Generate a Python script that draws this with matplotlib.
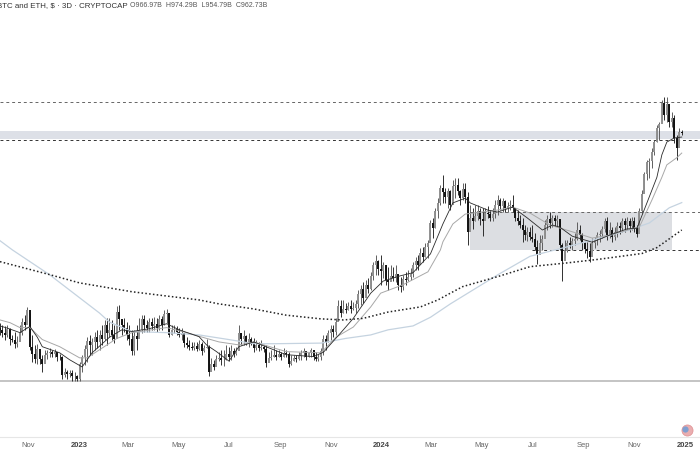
import numpy as np
import matplotlib
matplotlib.use("Agg")
from matplotlib import pyplot as plt
import matplotlib.dates as mdates

plt.rcParams['font.family'] = ['Liberation Sans', 'DejaVu Sans']

# 3D bars, values in $B
start_date = np.datetime64('2022-09-28')
highs = [414,410,408,410,405,392,397,390,410,423,
         428,443,433,392,375,376,363,358,367,366,
         370,366,368,362,360,357,338,336,336,336,
         333,328,348,359,375,388,392,386,397,401,
         401,410,419,423,423,419,410,445,447,419,
         423,415,410,401,401,410,423,428,428,419,
         423,423,425,423,428,426,438,440,433,410,
         410,408,405,405,392,388,384,380,380,380,
         384,380,375,385,375,354,351,359,364,367,
         367,375,372,375,370,372,410,395,401,392,
         395,388,386,384,380,384,375,375,364,367,
         375,367,367,364,370,367,364,359,359,358,
         364,367,370,364,364,370,364,364,360,370,
         392,392,401,410,410,423,458,458,458,452,
         454,458,454,458,479,490,497,501,505,519,
         543,559,547,559,543,535,531,535,531,535,
         512,508,512,519,524,528,543,555,559,577,
         580,590,598,653,660,689,720,763,798,755,
         752,746,781,788,788,746,770,770,740,698,
         690,698,698,690,690,690,695,683,690,714,
         730,722,722,714,708,714,730,683,683,668,
         660,639,634,634,639,617,598,611,611,653,
         668,677,668,668,668,653,590,598,598,607,
         604,617,648,639,617,593,593,590,604,607,
         620,625,636,660,663,648,634,634,648,648,
         660,660,663,660,663,663,639,690,746,810,
         853,860,900,932,997,1010,1114,1130,1130,1090,
         1055,1043,953,985,974]
lows = [392,388,384,388,375,380,370,372,384,392,
        401,414,367,348,346,345,344,332,349,352,
        356,356,356,349,351,322,325,322,325,320,
        320,320,320,333,343,348,359,358,367,370,
        367,375,384,375,388,384,378,403,401,392,
        397,384,375,358,359,367,392,396,398,398,
        397,401,401,398,401,401,410,414,388,392,
        396,392,388,384,372,370,367,367,367,365,
        367,359,364,370,326,336,336,343,349,343,
        342,351,349,351,355,359,367,375,375,375,
        372,375,364,367,365,367,364,340,349,351,
        355,351,356,351,356,356,340,343,349,348,
        351,351,356,351,356,356,351,349,349,351,
        359,367,380,384,388,392,425,425,433,433,
        438,433,438,433,442,448,452,468,472,479,
        501,512,512,490,505,490,479,501,498,495,
        479,475,479,490,498,501,508,524,524,543,
        541,555,553,593,604,632,658,698,705,705,
        690,683,714,720,730,698,714,705,585,639,
        628,650,653,639,608,653,660,650,650,660,
        668,683,677,677,677,683,677,650,639,630,
        593,598,595,598,593,572,538,572,572,605,
        625,630,633,635,633,572,498,555,568,577,
        572,585,598,598,572,565,552,543,568,577,
        585,593,604,620,598,604,593,598,607,614,
        620,620,625,620,625,620,606,630,675,740,
        781,788,825,873,925,932,1015,1020,1010,990,
        990,920,853,925,955]
closes = [400,395,392,402,385,384,376,380,396,415,
          410,438,372,360,352,368,352,345,358,362,
          364,360,364,356,355,328,333,330,331,326,
          326,322,345,355,368,382,375,380,388,380,
          392,385,410,395,400,392,385,435,420,410,
          405,392,385,365,390,385,400,420,410,405,
          415,408,412,404,420,410,430,432,392,400,
          402,398,392,395,378,374,372,370,373,369,
          376,365,370,372,332,345,340,352,354,350,
          350,360,355,365,360,365,395,385,390,380,
          385,380,370,375,370,372,368,346,353,356,
          358,355,360,356,362,360,345,349,354,352,
          357,361,365,355,361,366,355,352,356,365,
          385,380,395,402,398,415,445,432,440,438,
          445,440,442,450,470,480,462,490,480,510,
          535,545,525,520,535,500,495,510,505,515,
          490,485,502,500,508,515,535,545,535,565,
          555,580,590,645,630,680,705,755,740,725,
          745,700,760,765,745,720,750,725,620,660,
          650,665,680,655,650,675,670,660,670,700,
          715,695,710,690,695,700,688,660,650,640,
          625,610,620,605,600,580,560,590,600,640,
          655,645,660,650,655,585,545,570,590,585,
          595,600,625,610,590,575,570,555,590,600,
          610,615,628,650,612,625,605,620,635,630,
          650,640,650,635,652,630,615,680,735,800,
          845,850,885,925,985,1000,1100,1040,1095,1010,
          1030,940,900,965,963]
first_open = 405

# moving averages: bar number, value in $B
ma_short_idx = [0,3,8,12,15,17,24,28,33,37,44,49,53,60,67,72,80,83,87,92,96,102,
                115,126,130,137,142,149,154,161,166,173,178,182,187,189,196,200,
                206,212,218,222,225,230,238,245,252,256,260,264,266,268,271,274]
ma_short = [408,404,396,407,388,372,362,351,340,362,388,401,398,403,412,401,389,375,364,349,372,380,
            359,356,363,396,422,472,498,510,517,562,642,705,720,705,683,677,
            692,659,625,639,633,608,592,611,628,630,705,790,873,924,941,945]
ma_mid_idx = [0,4,8,12,17,24,32,35,40,47,53,67,75,83,88,96,102,115,129,135,142,149,153,
              162,172,177,178,182,187,200,206,213,221,231,238,245,257,262,266,268,272,274]
ma_mid = [419,414,405,405,384,372,354,354,367,386,396,405,396,386,380,375,380,364,362,388,406,444,472,
          490,519,572,593,642,671,683,692,674,639,618,603,611,634,714,790,835,862,880]
ma_long_idx = [0,5,20,40,44,53,67,80,92,102,111,129,139,149,156,166,173,181,200,213,228,241,253,261,269,274]
ma_long = [596,572,512,432,415,398,396,392,384,377,377,378,386,392,401,408,424,450,512,556,580,603,625,645,690,706]
ma_200_idx = [0,19,32,53,67,80,88,102,115,129,138,146,156,169,176,181,186,200,213,228,241,258,264,274]
ma_200 = [543,514,494,475,466,458,450,440,428,421,419,422,434,444,458,472,486,508,531,540,549,563,578,625]

# levels drawn on the chart
top_level = 1103
band_hi, band_lo = 971, 937
band_edge = 932
box_hi, box_lo = 676, 572
box_left, box_right = 189, 270
box_lo_start = 214
floor_level = 320

tick_dates = ['2022-11-01','2023-01-01','2023-03-01','2023-05-01','2023-07-01','2023-09-01','2023-11-01',
              '2024-01-01','2024-03-01','2024-05-01','2024-07-01','2024-09-01','2024-11-01','2025-01-01']
tick_names = ['Nov','2023','Mar','May','Jul','Sep','Nov','2024','Mar','May','Jul','Sep','Nov','2025']

bar_dates = mdates.date2num(start_date + np.arange(len(closes)) * np.timedelta64(3, 'D'))
highs = np.array(highs, float)
lows = np.array(lows, float)
closes = np.array(closes, float)
opens = np.r_[first_open, closes[:-1]]
opens[-1] = 966.97


def bar_x(idx):
    return bar_dates[np.array(idx)]


fig = plt.figure(figsize=(7, 4.5), dpi=100)
ax = fig.add_axes([0, 0, 1, 1])
ax.set_yscale('log')
ax.set_xlim(bar_dates[0], bar_dates[0] + 844)
ax.set_ylim(235, 1738)
for s in ax.spines.values():
    s.set_visible(False)
ax.yaxis.set_major_locator(plt.NullLocator())
ax.yaxis.set_minor_locator(plt.NullLocator())

# zones and levels
ax.axhspan(band_lo, band_hi, color='#dde0e7', lw=0, zorder=1)
ax.fill_between([bar_dates[box_left], bar_dates[box_right]], box_lo, box_hi, color='#dcdee2', lw=0, zorder=1)
ax.axhline(top_level, color='#666666', lw=0.7, ls=(0, (3, 3)), zorder=2)
ax.axhline(band_edge, color='#333333', lw=0.7, ls=(0, (3, 3)), zorder=2)
ax.plot([bar_dates[box_left], ax.get_xlim()[1]], [box_hi, box_hi], color='#666666', lw=0.7, ls=(0, (3, 3)), zorder=2)
ax.plot([bar_dates[box_lo_start], ax.get_xlim()[1]], [box_lo, box_lo], color='#333333', lw=0.7, ls=(0, (3, 3)), zorder=2)
ax.axhline(floor_level, color='#b4b4b4', lw=1.1, zorder=2)

# candles
up = closes >= opens
ax.vlines(bar_dates[up], lows[up], highs[up], color='#555555', lw=0.65, zorder=3)
ax.vlines(bar_dates[~up], lows[~up], highs[~up], color='#222222', lw=0.65, zorder=3)
ax.vlines(bar_dates[up], opens[up], closes[up], color='#8f8f8f', lw=1.4, zorder=3)
ax.vlines(bar_dates[~up], closes[~up], opens[~up], color='#111111', lw=1.4, zorder=3)

# moving averages
ax.plot(bar_x(ma_long_idx), ma_long, color='#c5d3e0', lw=0.9, zorder=4)
ax.plot(bar_x(ma_mid_idx), ma_mid, color='#a8a8a8', lw=0.7, zorder=4)
ax.plot(bar_x(ma_short_idx), ma_short, color='#2a2a2a', lw=0.6, zorder=5)
ax.plot(bar_x(ma_200_idx), ma_200, color='#222222', lw=1.1, ls=(0, (1, 1.5)), zorder=5)

# time axis sits inside the frame, like the cropped screenshot
ax.set_xticks(mdates.date2num(np.array(tick_dates, dtype='datetime64[D]')))
ax.set_xticklabels(tick_names, fontsize=5.5, color='#666666')
ax.tick_params(axis='x', length=0, pad=-5.5)
for lab, name in zip(ax.get_xticklabels(), tick_names):
    if name.isdigit():
        lab.set_fontweight('bold')
        lab.set_color('#444444')
ax.plot([0, 1], [0.029, 0.029], transform=ax.transAxes, color='#e6e6e6', lw=0.8)

# header
ax.text(-0.004, 0.9885, 'BTC and ETH, $ · 3D · CRYPTOCAP', transform=ax.transAxes,
        fontsize=5.7, color='#333333', va='center', ha='left')
ax.text(0.186, 0.9885, 'O966.97B  H974.29B  L954.79B  C962.73B', transform=ax.transAxes,
        fontsize=5, color='#555555', va='center', ha='left')

# flag badge
ax.plot([0.981], [0.0445], 'o', transform=ax.transAxes, ms=8, mfc='#e9aeb0', mec='#e08f92', mew=0.5, zorder=6)
ax.plot([0.979], [0.046], 'o', transform=ax.transAxes, ms=4.5, mfc='#7f9fd0', mec='none', zorder=7)

fig.savefig('out.png', dpi=100)
